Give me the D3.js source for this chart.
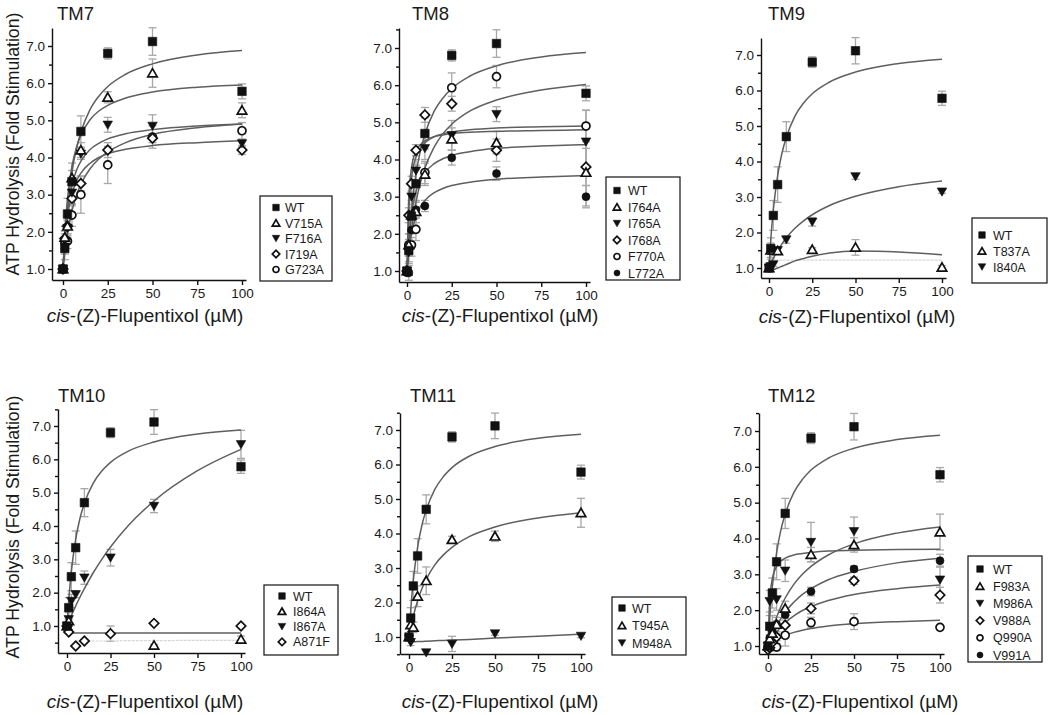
<!DOCTYPE html>
<html><head><meta charset="utf-8">
<script src="https://cdn.jsdelivr.net/npm/d3@7"></script>
<style>
body{margin:0;background:#fff}
svg{display:block}
text{font-family:"Liberation Sans",Arial,sans-serif;fill:#1a1a1a}
</style>
</head><body>
<svg id="chart" width="1050" height="715"></svg>
<script>
// ---------- data ----------
const doses = [0, 1, 2.5, 5, 10, 25, 50, 100];
const fitX  = [0, 1, 2.5, 5, 7.5, 10, 15, 20, 25, 35, 50, 75, 100];
const xTicks = [0, 25, 50, 75, 100];
const yTicks = [1, 2, 3, 4, 5, 6, 7];
const yMinorTicks = [0.5, 1.5, 2.5, 3.5, 4.5, 5.5, 6.5, 7.5];
const panelTitles = ["TM7", "TM8", "TM9", "TM10", "TM11", "TM12"];
const yTitle = "ATP Hydrolysis (Fold Stimulation)";
const xTitleItalic = "cis";
const xTitleRest = "-(Z)-Flupentixol (\u00B5M)";

const WT_y   = [1.0, 1.55, 2.48, 3.35, 4.7, 6.8, 7.12, 5.78];
const WT_err = [0.05, 0.3, 0.42, 0.5, 0.42, 0.15, 0.37, 0.2];
const WT_fit = [1.0, 1.78, 2.64, 3.60, 4.24, 4.68, 5.28, 5.65, 5.91, 6.24, 6.52, 6.76, 6.88];

// TM7
const V715A_y   = [1.0, 1.85, 2.15, 3.45, 4.2, 5.62, 6.27, 5.27];
const V715A_err = [0, 0.3, 0.3, 0.2, 0.2, 0.15, 0.38, 0.2];
const V715A_fit = [1.0, 1.97, 2.89, 3.76, 4.27, 4.60, 5.01, 5.25, 5.40, 5.60, 5.76, 5.89, 5.95];
const F716A_y   = [1.0, 1.6, 2.1, 3.05, 4.1, 4.88, 4.85, 4.38];
const F716A_err = [0, 0.2, 0.2, 0.3, 0.15, 0.2, 0.3, 0.1];
const F716A_fit = [1.0, 1.82, 2.57, 3.26, 3.65, 3.90, 4.21, 4.38, 4.50, 4.64, 4.75, 4.85, 4.90];
const I719A_y   = [1.0, 1.82, 2.15, 2.9, 3.3, 4.2, 4.52, 4.2];
const I719A_err = [0, 0.2, 0.2, 0.2, 0.2, 0.2, 0.12, 0.12];
const I719A_fit = [1.0, 1.73, 2.40, 3.01, 3.36, 3.58, 3.84, 4.00, 4.10, 4.22, 4.32, 4.40, 4.45];
const G723A_y   = [1.0, 1.75, 1.75, 2.45, 3.0, 3.8, 4.55, 4.72];
const G723A_err = [0, 0.2, 0.2, 0.3, 0.5, 0.5, 0.3, 0.22];
const G723A_fit = [1.0, 1.44, 1.95, 2.56, 2.98, 3.28, 3.69, 3.96, 4.15, 4.40, 4.62, 4.80, 4.90];

// TM8
const I764A_y   = [1.0, 1.7, 2.5, 2.6, 3.6, 4.55, 4.45, 3.65];
const I764A_err = [0, 0.3, 0.3, 0.3, 0.3, 0.3, 0.3, 0.9];
const I764A_fit = [1.0, 1.83, 2.53, 3.13, 3.45, 3.65, 3.88, 4.02, 4.11, 4.21, 4.30, 4.36, 4.40];
const I765A_y   = [1.0, 1.5, 3.0, 3.7, 4.3, 4.65, 5.22, 4.48];
const I765A_err = [0, 0.3, 0.3, 0.3, 0.3, 0.4, 0.2, 0.85];
const I765A_fit = [1.0, 2.60, 3.49, 4.06, 4.31, 4.45, 4.61, 4.69, 4.74, 4.80, 4.85, 4.88, 4.90];
const I768A_y   = [1.0, 2.5, 3.35, 4.25, 5.2, 5.5, 4.25, 3.8];
const I768A_err = [0, 0.2, 0.2, 0.15, 0.2, 0.2, 0.3, 0.5];
const I768A_fit = [1.0, 2.95, 3.77, 4.22, 4.40, 4.50, 4.61, 4.66, 4.70, 4.73, 4.76, 4.78, 4.80];
const F770A_y   = [1.0, 1.7, 1.7, 2.12, 3.65, 5.93, 6.23, 4.9];
const F770A_err = [0, 0.3, 0.3, 0.3, 0.3, 0.4, 0.3, 0.42];
const F770A_fit = [1.0, 1.51, 2.11, 2.85, 3.38, 3.77, 4.32, 4.69, 4.95, 5.30, 5.60, 5.87, 6.02];
const L772A_y   = [0.95, 0.95, 2.1, 2.65, 2.75, 4.05, 3.62, 3.0];
const L772A_err = [0, 0.2, 0.2, 0.2, 0.15, 0.2, 0.18, 0.3];
const L772A_fit = [1.0, 1.53, 2.02, 2.47, 2.73, 2.90, 3.10, 3.22, 3.30, 3.39, 3.47, 3.53, 3.57];

// TM9
const T837A_y   = [1.0, 1.5, 1.5, 1.48, null, 1.52, 1.58, 1.02];
const T837A_err = [0, 0.2, 0.1, 0.1, 0, 0.05, 0.22, 0.05];
const T837A_fit = [0.88, 0.91, 0.95, 1.0, 1.05, 1.1, 1.2, 1.27, 1.33, 1.42, 1.48, 1.45, 1.37];
const T837A_faint = [null, 1.22, 1.22, 1.22, 1.22, 1.22, 1.22, 1.22, 1.22, 1.22, 1.22, 1.22, 1.22];
const I840A_y   = [1.0, 1.05, 1.1, 1.5, 1.8, 2.3, 3.58, 3.15];
const I840A_err = [0, 0, 0.05, 0.1, 0.1, 0.12, 0.08, 0.05];
const I840A_fit = [1.0, 1.11, 1.27, 1.49, 1.68, 1.85, 2.12, 2.33, 2.50, 2.76, 3.02, 3.29, 3.45];

// TM10
const I864A_y   = [1.0, 1.15, null, null, null, null, 0.42, 0.6];
const I864A_err = [0, 0.05, 0, 0, 0, 0, 0.03, 0.1];
const I864A_faint = [null, null, null, 0.55, 0.55, 0.55, 0.55, 0.55, 0.55, 0.56, 0.56, 0.57, 0.57];
const I867A_y   = [1.0, 1.2, 1.75, 1.95, 2.45, 3.05, 4.6, 6.45];
const I867A_err = [0, 0.2, 0.2, 0.1, 0.2, 0.25, 0.2, 0.42];
const I867A_fit = [1.0, 1.13, 1.31, 1.60, 1.87, 2.12, 2.59, 3.00, 3.37, 4.00, 4.75, 5.66, 6.30];
const A871F_y   = [1.0, 0.82, null, 0.4, 0.55, 0.77, 1.08, 1.0];
const A871F_err = [0, 0.05, 0, 0, 0, 0.23, 0, 0];
const A871F_fit = [0.95, 0.85, 0.80, 0.79, 0.79, 0.79, 0.79, 0.79, 0.79, 0.79, 0.79, 0.79, 0.79];

// TM11
const T945A_y   = [1.0, 1.35, 1.28, 2.18, 2.63, 3.82, 3.92, 4.6];
const T945A_err = [0, 0.2, 0.15, 0.3, 0.4, 0.1, 0.15, 0.42];
const T945A_fit = [1.0, 1.26, 1.60, 2.05, 2.40, 2.67, 3.09, 3.38, 3.60, 3.91, 4.19, 4.45, 4.60];
const M948A_y   = [0.95, 0.85, null, null, 0.55, 0.8, 1.1, 1.03];
const M948A_err = [0, 0.1, 0, 0, 0, 0.22, 0.05, 0.05];
const M948A_fit = [0.86, 0.86, 0.86, 0.87, 0.87, 0.88, 0.89, 0.90, 0.91, 0.93, 0.97, 1.02, 1.08];

// TM12
const F983A_y   = [1.0, 1.2, 1.35, 1.6, 2.05, 3.55, 3.82, 4.18];
const F983A_err = [0, 0.1, 0.2, 0.2, 0.2, 0.2, 0.2, 0.5];
const F983A_fit = [1.0, 1.19, 1.45, 1.80, 2.10, 2.34, 2.72, 3.00, 3.22, 3.54, 3.85, 4.15, 4.32];
const M986A_y   = [1.0, 2.25, 1.55, 2.3, 3.1, 3.9, 4.2, 2.85];
const M986A_err = [0, 0.3, 0.3, 0.3, 0.3, 0.55, 0.4, 0.38];
const M986A_fit = [1.0, 2.27, 2.87, 3.22, 3.37, 3.45, 3.54, 3.58, 3.61, 3.65, 3.67, 3.69, 3.70];
const V988A_y   = [0.9, 0.95, 1.1, 1.25, 1.58, 2.05, 2.82, 2.42];
const V988A_err = [0, 0.1, 0.1, 0.1, 0.2, 0.15, 0.1, 0.22];
const V988A_fit = [1.0, 1.09, 1.21, 1.38, 1.53, 1.65, 1.84, 1.99, 2.10, 2.27, 2.44, 2.60, 2.70];
const Q990A_y   = [0.95, 1.0, 1.05, 0.97, 1.3, 1.65, 1.68, 1.52];
const Q990A_err = [0, 0.1, 0.1, 0.1, 0.3, 0.15, 0.22, 0.05];
const Q990A_fit = [1.0, 1.04, 1.10, 1.18, 1.25, 1.30, 1.38, 1.44, 1.49, 1.56, 1.62, 1.68, 1.72];
const V991A_y   = [1.0, 1.22, 1.4, 1.6, 1.87, 2.52, 3.15, 3.38];
const V991A_err = [0, 0.1, 0.1, 0.1, 0.15, 0.12, 0.08, 0.18];
const V991A_fit = [1.0, 1.13, 1.31, 1.56, 1.77, 1.95, 2.22, 2.44, 2.60, 2.85, 3.08, 3.32, 3.45];

const panelSeries = [
  ["WT", "V715A", "F716A", "I719A", "G723A"],
  ["WT", "I764A", "I765A", "I768A", "F770A", "L772A"],
  ["WT", "T837A", "I840A"],
  ["WT", "I864A", "I867A", "A871F"],
  ["WT", "T945A", "M948A"],
  ["WT", "F983A", "M986A", "V988A", "Q990A", "V991A"]
];

// ---------- series registry (built from arrays) ----------
const series = {
  WT:{y:WT_y,err:WT_err,fit:WT_fit},
  V715A:{y:V715A_y,err:V715A_err,fit:V715A_fit}, F716A:{y:F716A_y,err:F716A_err,fit:F716A_fit},
  I719A:{y:I719A_y,err:I719A_err,fit:I719A_fit}, G723A:{y:G723A_y,err:G723A_err,fit:G723A_fit},
  I764A:{y:I764A_y,err:I764A_err,fit:I764A_fit}, I765A:{y:I765A_y,err:I765A_err,fit:I765A_fit},
  I768A:{y:I768A_y,err:I768A_err,fit:I768A_fit}, F770A:{y:F770A_y,err:F770A_err,fit:F770A_fit},
  L772A:{y:L772A_y,err:L772A_err,fit:L772A_fit},
  T837A:{y:T837A_y,err:T837A_err,fit:T837A_fit,faint:T837A_faint}, I840A:{y:I840A_y,err:I840A_err,fit:I840A_fit},
  I864A:{y:I864A_y,err:I864A_err,fit:null,faint:I864A_faint}, I867A:{y:I867A_y,err:I867A_err,fit:I867A_fit},
  A871F:{y:A871F_y,err:A871F_err,fit:A871F_fit},
  T945A:{y:T945A_y,err:T945A_err,fit:T945A_fit}, M948A:{y:M948A_y,err:M948A_err,fit:M948A_fit},
  F983A:{y:F983A_y,err:F983A_err,fit:F983A_fit}, M986A:{y:M986A_y,err:M986A_err,fit:M986A_fit},
  V988A:{y:V988A_y,err:V988A_err,fit:V988A_fit}, Q990A:{y:Q990A_y,err:Q990A_err,fit:Q990A_fit},
  V991A:{y:V991A_y,err:V991A_err,fit:V991A_fit}
};
const shapeOrderTM = ["square","triUp","triDown","diamond","circleOpen","circleFilled"];
const shapeOverride = {A871F:"diamond"};

// ---------- layout (pixels) ----------
const layouts = [
  {axisX:52, x0:63, x100:242, y1:269, y7:46, bottom:280, top:28, title:[57,20], xT:[145,322], yT:[13,144],
   leg:{x:260,y:196,w:72,h:85,r0:207.5,dy:15.5,mx:276,tx:285}},
  {axisX:399, x0:407, x100:586, y1:271, y7:48, bottom:282, top:28, title:[412,20], xT:[500,322], yT:null,
   leg:{x:606,y:177,w:74,h:103,r0:190.5,dy:16.5,mx:617,tx:628}},
  {axisX:761, x0:769, x100:942, y1:268, y7:55, bottom:278, top:38, title:[768,20], xT:[857,323], yT:null,
   leg:{x:972,y:218,w:75,h:65,r0:235,dy:16,mx:982,tx:993}},
  {axisX:58, x0:67, x100:241, y1:626, y7:426, bottom:653, top:409, title:[58,402], xT:[145,708], yT:[13,527],
   leg:{x:264,y:585,w:74,h:70,r0:596,dy:15.3,mx:282,tx:293}},
  {axisX:400, x0:409, x100:581, y1:637, y7:430, bottom:654, top:413, title:[410,402], xT:[500,708], yT:null,
   leg:{x:612,y:597,w:74,h:58,r0:608,dy:17.5,mx:622,tx:632}},
  {axisX:759, x0:768, x100:940, y1:646, y7:431, bottom:654, top:413, title:[768,402], xT:[860,708], yT:null,
   leg:{x:968,y:556,w:74,h:106,r0:569,dy:17.2,mx:980,tx:993}}
];

const svg = d3.select("#chart");
const FONT = '"Liberation Sans", Arial, sans-serif';

function markerPath(shape, s) {
  switch (shape) {
    case "square": return d3.symbol(d3.symbolSquare, s*s)();
    case "triUp": return d3.symbol(d3.symbolTriangle, Math.sqrt(3)/4*s*s)();
    case "triDown": return d3.symbol(d3.symbolTriangle, Math.sqrt(3)/4*s*s)();
    case "diamond": return d3.symbol(d3.symbolSquare, s*s/2)();
    default: return d3.symbol(d3.symbolCircle, Math.PI*s*s/4)();
  }
}
function drawMarker(g, shape, cx, cy, s) {
  const rot = shape === "triDown" ? 180 : (shape === "diamond" ? 45 : 0);
  const filled = shape === "square" || shape === "triDown" || shape === "circleFilled";
  g.append("path").attr("d", markerPath(shape, s))
    .attr("transform", `translate(${cx},${cy}) rotate(${rot})` + (shape==="triUp"||shape==="triDown" ? " translate(0,1)" : ""))
    .attr("fill", filled ? "#111" : "#fff")
    .attr("stroke", "#111")
    .attr("stroke-width", filled ? 0.6 : 1.7);
}

panelTitles.forEach((title, pi) => {
  const L = layouts[pi];
  const names = panelSeries[pi];
  const x = d3.scaleLinear().domain([0, 100]).range([L.x0, L.x100]);
  x.domain([x.invert(L.axisX), x.invert(L.x100 + 4)]).range([L.axisX, L.x100 + 4]);
  const y = d3.scaleLinear().domain([1, 7]).range([L.y1, L.y7]);
  y.domain([y.invert(L.bottom), y.invert(L.top)]).range([L.bottom, L.top]);
  const [yLo, yHi] = y.domain();

  const g = svg.append("g");

  const gx = g.append("g").attr("transform", `translate(0,${L.bottom})`)
    .call(d3.axisBottom(x).tickValues(xTicks).tickSize(5).tickSizeOuter(0).tickPadding(3));
  const gy = g.append("g").attr("transform", `translate(${L.axisX},0)`)
    .call(d3.axisLeft(y).tickValues(yTicks).tickFormat(d3.format(".1f")).tickSize(4).tickSizeOuter(0).tickPadding(3));
  const gym = g.append("g").attr("transform", `translate(${L.axisX},0)`)
    .call(d3.axisLeft(y).tickValues(yMinorTicks.filter(v => v >= yLo - 0.01 && v <= yHi + 0.01)).tickFormat("").tickSize(3).tickSizeOuter(0));
  gym.select(".domain").remove();
  [gx, gy, gym].forEach(a => {
    a.attr("font-family", FONT).attr("font-size", 13.5);
    a.selectAll("path,line").attr("stroke", "#111").attr("stroke-width", 1.4);
    a.selectAll("text").attr("fill", "#1a1a1a");
  });

  // error bars
  const eg = g.append("g").attr("stroke", "#a8a8a8").attr("stroke-width", 1.3).attr("fill", "none");
  names.forEach(n => {
    const S = series[n];
    doses.forEach((d, i) => {
      const v = S.y[i], e = S.err[i];
      if (v == null || !e) return;
      const cx = x(d);
      eg.append("line").attr("x1", cx).attr("x2", cx).attr("y1", y(v - e)).attr("y2", y(v + e));
      eg.append("line").attr("x1", cx - 4).attr("x2", cx + 4).attr("y1", y(v - e)).attr("y2", y(v - e));
      eg.append("line").attr("x1", cx - 4).attr("x2", cx + 4).attr("y1", y(v + e)).attr("y2", y(v + e));
    });
  });

  // fit curves
  const line = d3.line().defined(d => d[1] != null).x(d => x(d[0])).y(d => y(d[1])).curve(d3.curveMonotoneX);
  names.forEach(n => {
    const S = series[n];
    if (S.faint) {
      g.append("path").attr("d", line(fitX.map((fx, i) => [fx, S.faint[i]])))
        .attr("fill", "none").attr("stroke", "#d6d6d6").attr("stroke-width", 1.2).attr("stroke-dasharray", "3,1");
    }
  });
  names.forEach(n => {
    const S = series[n];
    if (!S.fit) return;
    g.append("path").attr("d", line(fitX.map((fx, i) => [fx, S.fit[i]])))
      .attr("fill", "none").attr("stroke", "#5f5f5f").attr("stroke-width", 1.5);
  });

  // markers (reverse so WT on top)
  const mg = g.append("g");
  names.slice().reverse().forEach(n => {
    const idx = names.indexOf(n);
    const shape = shapeOverride[n] || shapeOrderTM[idx];
    const S = series[n];
    doses.forEach((d, i) => {
      const v = S.y[i];
      if (v == null) return;
      drawMarker(mg, shape, x(d), y(v), shape === "square" ? 8.5 : (shape.startsWith("circle") ? 8 : 9.5));
    });
  });

  g.append("text").attr("x", L.title[0]).attr("y", L.title[1]).attr("font-size", 18.5).text(title);

  const xt = g.append("text").attr("x", L.xT[0]).attr("y", L.xT[1]).attr("text-anchor", "middle").attr("font-size", 19);
  xt.append("tspan").attr("font-style", "italic").text(xTitleItalic);
  xt.append("tspan").text(xTitleRest);

  if (L.yT) {
    g.append("text").attr("transform", `translate(${L.yT[0] + 6},${L.yT[1]}) rotate(-90)`)
      .attr("text-anchor", "middle").attr("font-size", 17.7).text(yTitle);
  }

  const lg = g.append("g");
  const Lg = L.leg;
  lg.append("rect").attr("x", Lg.x).attr("y", Lg.y).attr("width", Lg.w).attr("height", Lg.h)
    .attr("fill", "#fff").attr("stroke", "#111").attr("stroke-width", 1.2);
  names.forEach((n, i) => {
    const shape = shapeOverride[n] || shapeOrderTM[i];
    const cy = Lg.r0 + i * Lg.dy;
    drawMarker(lg, shape, Lg.mx, cy, shape === "square" ? 6.5 : (shape.startsWith("circle") ? 6 : 7.5));
    lg.append("text").attr("x", Lg.tx).attr("y", cy + 4.5).attr("font-size", 12.5).text(n);
  });
});
</script>
</body></html>
